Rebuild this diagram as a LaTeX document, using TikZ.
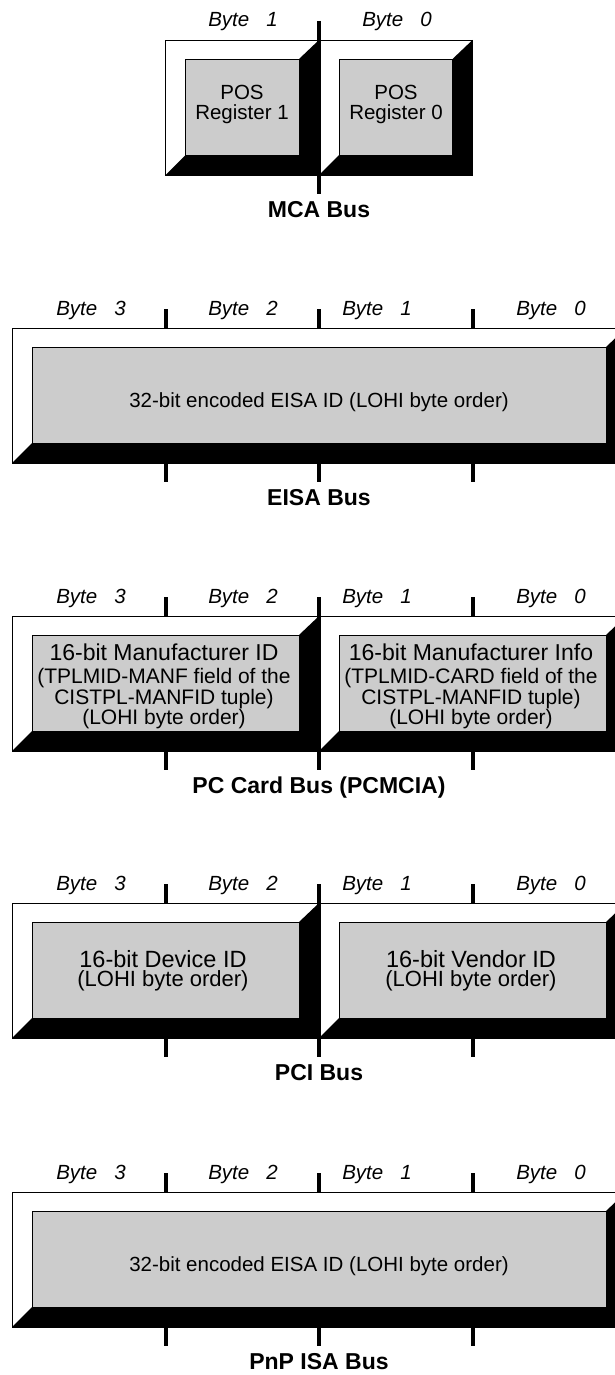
\documentclass[tikz,border=0pt]{standalone}
\usepackage{fontspec}
\setmainfont{Liberation Sans}
\lineskiplimit=-20pt\relax
\newcommand{\bevelcell}[3]{%
  \fill[white] (#1,#3) rectangle (#2,{#3+135});
  \fill[black] (#2,#3) -- (#2,{#3+135}) -- (#1,{#3+135}) -- ({#1+20},{#3+115})
    -- ({#2-20},{#3+115}) -- ({#2-20},{#3+19}) -- cycle;
  \draw[cellline] (#1,#3) rectangle (#2,{#3+135});
  \draw[cellfill] ({#1+20},{#3+19}) rectangle ({#2-20},{#3+115});
}

\begin{document}
\begin{tikzpicture}[x=1pt, y=-1pt,
  cellline/.style={line width=0.9pt},
  cellfill/.style={fill=black!20, draw=black, line width=0.9pt},
  divider/.style={line width=4pt},
  bytelabel/.style={anchor=base, font=\fontsize{20.5}{24}\selectfont\itshape},
  buslabel/.style={anchor=base, font=\fontsize{23}{27}\selectfont\bfseries},
  idtext/.style={anchor=base, align=center, font=\fontsize{20.5}{20}\selectfont},
  pcctext/.style={anchor=base, align=center, font=\fontsize{21}{20.5}\selectfont},
  pcitext/.style={anchor=base, align=center, font=\fontsize{22}{18.5}\selectfont}]
\useasboundingbox (0,0) rectangle (615,1375);

\bevelcell{165.5}{319}{40}
\bevelcell{319}{472.5}{40}
\draw[divider] (319,21) -- (319,194);
\node[bytelabel] (mca-b1) at (243,27) {Byte\hspace{17pt}1};
\node[bytelabel] (mca-b0) at (397,27) {Byte\hspace{17pt}0};
\node[idtext] (posreg1) at (242,120) {POS\\Register 1};
\node[idtext] (posreg0) at (396,120) {POS\\Register 0};
\node[buslabel] (mca) at (319,218) {MCA Bus};

\bevelcell{12}{626}{328}
\bevelcell{12}{319}{616}
\bevelcell{319}{626}{616}
\bevelcell{12}{319}{903}
\bevelcell{319}{626}{903}
\bevelcell{12}{626}{1192}

\foreach \t/\s in {328/eisa, 616/pcc, 903/pci, 1192/pnp} {
  \node[bytelabel] (\s-b3) at (91,{\t-13}) {Byte\hspace{17pt}3};
  \node[bytelabel] (\s-b2) at (243,{\t-13}) {Byte\hspace{17pt}2};
  \node[bytelabel] (\s-b1) at (377,{\t-13}) {Byte\hspace{17pt}1};
  \node[bytelabel] (\s-b0) at (551,{\t-13}) {Byte\hspace{17pt}0};
  \foreach \x in {165.5, 319, 472.5}
    \draw[divider] (\x,{\t-19}) -- (\x,\t) (\x,{\t+135}) -- (\x,{\t+154});
}
\draw[divider] (319,597) -- (319,770);
\draw[divider] (319,884) -- (319,1057);

\node[idtext] (eisaid) at (319,407) {32-bit encoded EISA ID (LOHI byte order)};
\node[buslabel] (eisa) at (319,505) {EISA Bus};

\node[pcctext] (manfid) at (164,724) {\fontsize{23}{23}\selectfont 16-bit Manufacturer ID\\[2.5pt]
  (TPLMID-MANF field of the\\CISTPL-MANFID tuple)\\[-0.5pt](LOHI byte order)};
\node[pcctext] (manfinfo) at (471,724) {\fontsize{23}{23}\selectfont 16-bit Manufacturer Info\\[2.5pt]
  (TPLMID-CARD field of the\\CISTPL-MANFID tuple)\\[-0.5pt](LOHI byte order)};
\node[buslabel] (pcc) at (319,793) {PC Card Bus (PCMCIA)};

\node[pcitext] (devid) at (163,986) {\fontsize{23.5}{23}\selectfont 16-bit Device ID\\(LOHI byte order)};
\node[pcitext] (vendid) at (471,986) {\fontsize{23.5}{23}\selectfont 16-bit Vendor ID\\(LOHI byte order)};
\node[buslabel] (pci) at (319,1080) {PCI Bus};

\node[idtext] (pnpid) at (319,1271) {32-bit encoded EISA ID (LOHI byte order)};
\node[buslabel] (pnp) at (319,1369) {PnP ISA Bus};
\end{tikzpicture}
\end{document}
